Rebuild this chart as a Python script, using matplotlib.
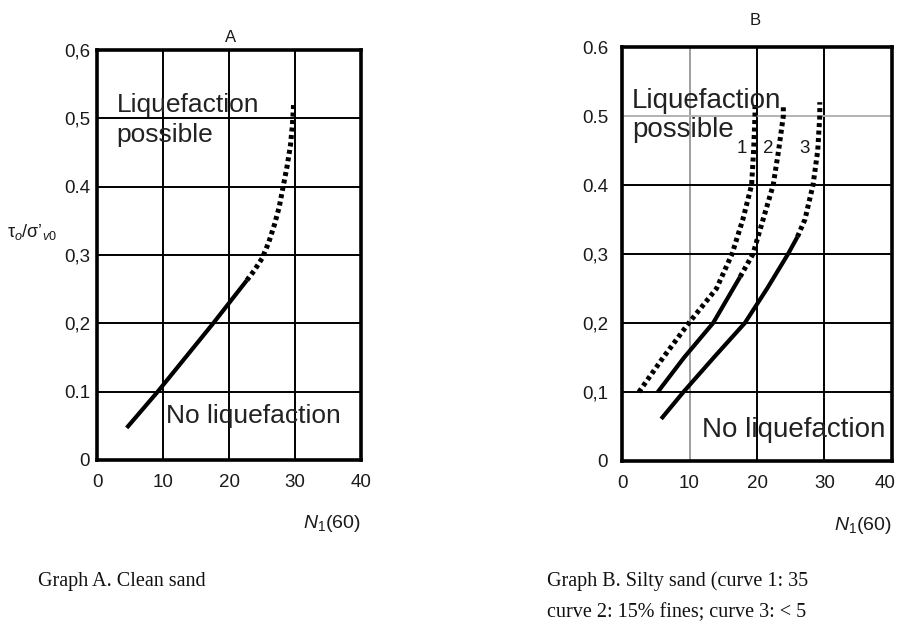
import matplotlib
matplotlib.use("Agg")
import matplotlib.pyplot as plt
from matplotlib.transforms import ScaledTranslation

plt.rcParams['font.family'] = ['Liberation Sans', 'DejaVu Sans']
plt.rcParams['mathtext.fontset'] = 'custom'
plt.rcParams['mathtext.rm'] = 'Liberation Sans'
plt.rcParams['mathtext.it'] = 'Liberation Sans:italic'

# ---- data ----
x_ticks = [0, 10, 20, 30, 40]
y_ticks = [0, 0.1, 0.2, 0.3, 0.4, 0.5, 0.6]
x_ticklabels = ['0', '10', '20', '30', '40']
a_yticklabels = ['0', '0.1', '0,2', '0,3', '0.4', '0,5', '0,6']
b_yticklabels = ['0', '0,1', '0,2', '0,3', '0.4', '0.5', '0.6']

# Graph A (clean sand)
a_solid_n = [4.5, 9.2, 17.6, 22.7]
a_solid_v = [0.047, 0.10, 0.20, 0.263]
a_dot_n = [22.7, 23.8, 25.0, 26.0, 26.9, 27.6, 28.2, 28.8, 29.3, 29.6, 29.8]
a_dot_v = [0.263, 0.277, 0.295, 0.318, 0.345, 0.37, 0.40, 0.43, 0.46, 0.49, 0.523]

# Graph B (silty sand)
b1_dot_n = [2.5, 6.1, 9.9, 14.0, 16.3, 17.9, 19.2, 19.5, 19.7, 19.7]
b1_dot_v = [0.10, 0.15, 0.20, 0.25, 0.30, 0.35, 0.40, 0.45, 0.50, 0.52]
b2_solid_n = [5.3, 9.2, 13.5, 17.5]
b2_solid_v = [0.10, 0.15, 0.20, 0.267]
b2_dot_n = [17.5, 19.4, 20.9, 22.4, 23.2, 23.9, 23.9]
b2_dot_v = [0.267, 0.30, 0.35, 0.40, 0.45, 0.50, 0.515]
b3_solid_n = [5.8, 9.1, 13.6, 18.2, 21.5, 24.6, 26.0]
b3_solid_v = [0.061, 0.10, 0.15, 0.20, 0.25, 0.30, 0.325]
b3_dot_n = [26.0, 27.1, 28.3, 29.0, 29.3, 29.3]
b3_dot_v = [0.325, 0.35, 0.40, 0.45, 0.50, 0.52]
curve_labels = ['1', '2', '3']
curve_label_n = [17.7, 21.7, 27.1]

fig = plt.figure(figsize=(8.99, 6.26), dpi=100)
axA = fig.add_axes([0.1079, 0.2652, 0.2937, 0.6549])
axB = fig.add_axes([0.6919, 0.2636, 0.3003, 0.6613])

TXT = '#1a1a1a'
dot_style = dict(color='black', lw=3.6, linestyle=(0, (0.8, 0.7)), dash_capstyle='butt')
solid_style = dict(color='black', lw=3.0, solid_capstyle='butt')

for ax, ylabels, ypad in [(axA, a_yticklabels, 5), (axB, b_yticklabels, 10)]:
    ax.set_xlim(0, 40)
    ax.set_ylim(0, 0.6)
    ax.set_xticks(x_ticks)
    ax.set_xticklabels(x_ticklabels)
    ax.set_yticks(y_ticks)
    ax.set_yticklabels(ylabels)
    ax.tick_params(axis='x', length=0, pad=10, labelsize=13.5, labelcolor=TXT)
    ax.tick_params(axis='y', length=0, pad=ypad, labelsize=13.5, labelcolor=TXT)
    for s in ax.spines.values():
        s.set_linewidth(2.6)
        s.set_color('black')
    ax.grid(True, color='black', lw=1.4)
    ax.set_axisbelow(True)
    ax.text(1.0, -0.155, r'$N_1$(60)', transform=ax.transAxes, ha='right',
            va='center', fontsize=14, color=TXT)

# keep the last x tick label of B inside the figure
lastlab = axB.get_xticklabels()[-1]
lastlab.set_transform(lastlab.get_transform() + ScaledTranslation(-0.07, 0, fig.dpi_scale_trans))

# B: lighter grid lines at x=10 and y=0.5
axB.get_xgridlines()[1].set_color('0.62')
axB.get_ygridlines()[5].set_color('0.7')

# Graph A curves
axA.plot(a_solid_n, a_solid_v, **solid_style)
axA.plot(a_dot_n, a_dot_v, **dot_style)
axA.text(3.0, 0.5095, 'Liquefaction', fontsize=19, color='#222', va='baseline', ha='left')
axA.text(3.0, 0.4656, 'possible', fontsize=19, color='#222', va='baseline', ha='left')
axA.text(10.4, 0.054, 'No liquefaction', fontsize=19, color='#222', va='baseline', ha='left')
axA.text(0.504, 1.0195, 'A', transform=axA.transAxes, ha='center', va='baseline',
         fontsize=12, color=TXT)
axA.text(-0.34, 0.555, "τ$_o$/σ’$_{v0}$", transform=axA.transAxes, ha='left',
         va='center', fontsize=13, color=TXT)

# Graph B curves
axB.plot(b1_dot_n, b1_dot_v, **dot_style)
axB.plot(b2_solid_n, b2_solid_v, **solid_style)
axB.plot(b2_dot_n, b2_dot_v, **dot_style)
axB.plot(b3_solid_n, b3_solid_v, **solid_style)
axB.plot(b3_dot_n, b3_dot_v, **dot_style)
for lab, n in zip(curve_labels, curve_label_n):
    axB.text(n, 0.446, lab, fontsize=13.5, color=TXT, ha='center', va='baseline')
axB.text(1.5, 0.5116, 'Liquefaction', fontsize=20, color='#222', va='baseline', ha='left')
axB.text(1.5, 0.4696, 'possible', fontsize=20, color='#222', va='baseline', ha='left')
axB.text(11.85, 0.035, 'No liquefaction', fontsize=20, color='#222', va='baseline', ha='left')
axB.text(0.493, 1.053, 'B', transform=axB.transAxes, ha='center', va='baseline',
         fontsize=12, color=TXT)

# Captions
cap = dict(family=['Liberation Serif', 'DejaVu Serif'], fontsize=14.5, color='#111',
           va='baseline', ha='left')
fig.text(38 / 899, 1 - 586 / 626, 'Graph A. Clean sand', **cap)
fig.text(547 / 899, 1 - 586 / 626, 'Graph B. Silty sand (curve 1: 35', **cap)
fig.text(547 / 899, 1 - 617 / 626, 'curve 2: 15% fines; curve 3: < 5', **cap)

fig.savefig('out.png', dpi=100)
